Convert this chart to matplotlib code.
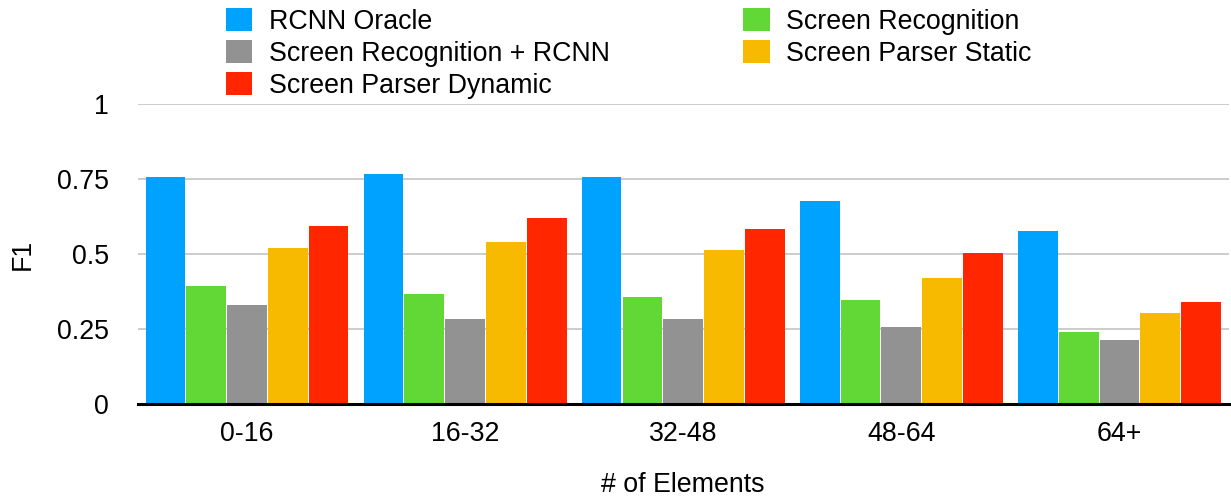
import numpy as np
import matplotlib
matplotlib.use('Agg')
import matplotlib.pyplot as plt

plt.rcParams['font.family'] = ['Liberation Sans', 'DejaVu Sans']

groups = ['0-16', '16-32', '32-48', '48-64', '64+']
series = ['RCNN Oracle', 'Screen Recognition', 'Screen Recognition + RCNN',
          'Screen Parser Static', 'Screen Parser Dynamic']
rcnn_oracle = [0.758, 0.768, 0.758, 0.678, 0.578]
screen_rec = [0.394, 0.368, 0.358, 0.348, 0.241]
screen_rec_rcnn = [0.331, 0.284, 0.284, 0.258, 0.214]
parser_static = [0.521, 0.541, 0.514, 0.421, 0.304]
parser_dynamic = [0.594, 0.621, 0.584, 0.504, 0.341]
colors = ['#00A2FF', '#61D836', '#929292', '#F8BA00', '#FF2600']

values = [rcnn_oracle, screen_rec, screen_rec_rcnn, parser_static, parser_dynamic]
fs = 19.3

fig = plt.figure(figsize=(12.31, 4.97), dpi=100)
ax = fig.add_axes([0.112, 0.187, 0.886, 0.604])

x = np.arange(len(groups))
w = 0.182
step = 0.187
bars = []
for i, (vals, c) in enumerate(zip(values, colors)):
    b = ax.bar(x + (i - 2) * step, vals, w, color=c, label=series[i], zorder=3)
    bars.append(b)

ax.set_xlim(-0.5, 4.5)
ax.set_ylim(0, 1)
ax.set_yticks([0, 0.25, 0.5, 0.75, 1])
ax.set_yticklabels(['0', '0.25', '0.5', '0.75', '1'])
ax.set_xticks(x)
ax.set_xticklabels(groups)
ax.tick_params(axis='y', length=0, pad=21, labelsize=fs)
ax.tick_params(axis='x', length=0, pad=12.5, labelsize=fs)
ax.grid(axis='y', color='#c8c8c8', linewidth=1.3, zorder=0)
for s in ['top', 'right', 'left']:
    ax.spines[s].set_visible(False)
ax.spines['bottom'].set_linewidth(2.2)
ax.spines['bottom'].set_zorder(4)
ax.set_xlabel('# of Elements', fontsize=fs, labelpad=18)
ax.set_ylabel('F1', fontsize=fs, labelpad=15)

# legend rows read left-to-right, matplotlib fills by column
order = [0, 2, 4, 1, 3]
handles = [bars[k] for k in order]
labels = [series[k] for k in order]
fig.legend(handles, labels, ncol=2, loc='upper left', bbox_to_anchor=(0.1636, 1.032),
           frameon=False, fontsize=fs, handlelength=1.0, handleheight=0.95,
           handletextpad=0.63, labelspacing=0.19, columnspacing=4.95)

fig.savefig('out.png', dpi=100)
